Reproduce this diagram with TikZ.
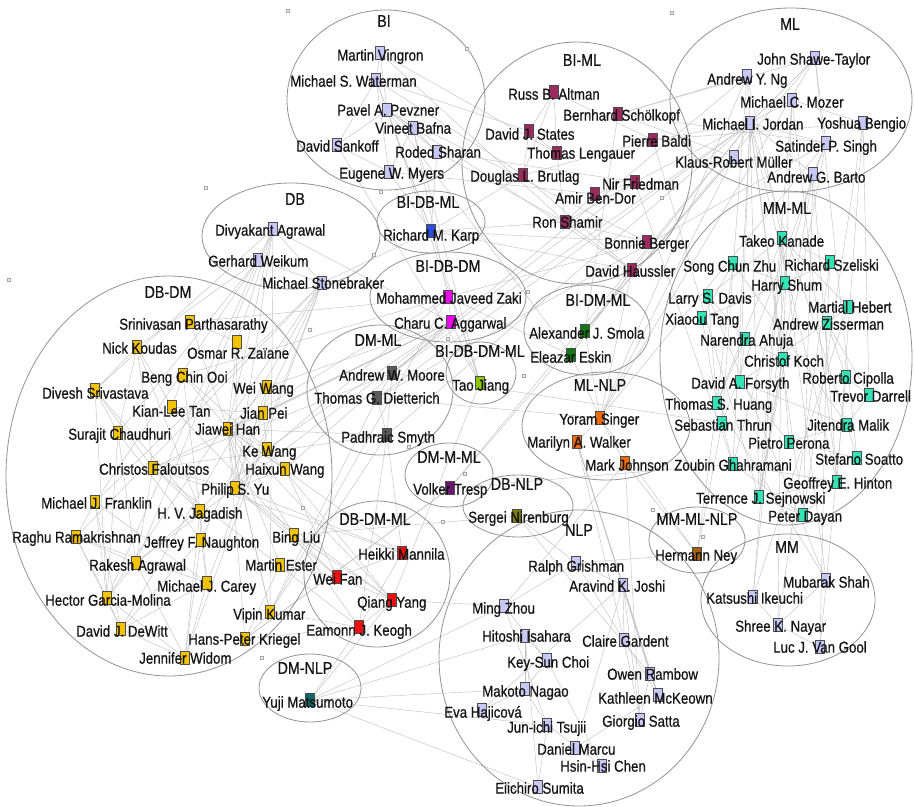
\documentclass[tikz,border=0pt]{standalone}
\usepackage{fontspec}
\setmainfont[FakeStretch=0.84,FakeBold=0.6]{Liberation Sans}
\usetikzlibrary{backgrounds}
\definecolor{lav}{HTML}{C8C8F6}
\definecolor{biml}{HTML}{9C2B60}
\definecolor{mmml}{HTML}{33E3B6}
\definecolor{dbdm}{HTML}{F4C300}
\definecolor{bidbml}{HTML}{2A4DE0}
\definecolor{bidbdm}{HTML}{F000F0}
\definecolor{dmml}{HTML}{5A5A5A}
\definecolor{bidbdmml}{HTML}{90C800}
\definecolor{bidmml}{HTML}{0B7A12}
\definecolor{mlnlp}{HTML}{EA6A0C}
\definecolor{dmmml}{HTML}{6C176F}
\definecolor{dbnlp}{HTML}{7D7D08}
\definecolor{dbdmml}{HTML}{EE1111}
\definecolor{dmnlp}{HTML}{0B6B6B}
\definecolor{mmmlnlp}{HTML}{A5600C}
\newcommand\auth[7]{\node[sq,fill=#4] (#1) at (#2,#3) {};\node[nm] (#1-t) at (#5,#6) {#7};}
\newcommand\grpell[4]{\draw[ring] (#1,#2) ellipse [x radius=#3*0.03cm, y radius=#4*0.03cm];}
\begin{document}
\begin{tikzpicture}[x=0.03cm,y=-0.03cm,
 sq/.style={draw=black!70,line width=0.3pt,minimum width=0.27cm,minimum height=0.39cm,inner sep=0pt,anchor=center},
 nm/.style={font=\fontsize{13.5}{14}\selectfont,text=black!92,inner sep=0pt,anchor=west,text height=9.7pt,text depth=0pt},
 grp/.style={font=\fontsize{14.5}{16}\selectfont,text=black!92,inner sep=0pt},
 edge/.style={draw=black!25,line width=0.35pt},
 ring/.style={draw=black!42,line width=0.7pt},
 hd/.style={draw=black!35,fill=black!6,minimum size=0.1cm,inner sep=0pt,line width=0.3pt}]
\begin{scope}[on background layer]
\fill[white] (0,0) rectangle (914,807);
\end{scope}
\useasboundingbox (0,0) rectangle (914,807);
% group ellipses
\grpell{386}{100}{99}{90}
\grpell{577}{163}{115}{121}
\grpell{791}{100}{121}{92}
\grpell{786}{358}{126}{167}
\grpell{291}{236}{89}{53}
\grpell{169}{476}{163}{200}
\grpell{380}{390}{73}{65}
\grpell{448}{297}{78}{45}
\grpell{431}{222}{54}{31}
\grpell{481}{373}{35}{31}
\grpell{587}{330}{63}{45}
\grpell{606}{426}{84}{54}
\grpell{449}{475}{44}{32}
\grpell{518}{506}{55}{31}
\grpell{377}{574}{73}{73}
\grpell{579}{658}{140}{148}
\grpell{310}{688}{51}{34}
\grpell{697}{540}{48}{33}
\grpell{788}{600}{87}{66}
% group labels
\node[grp] (lbi) at (384,21) {BI};
\node[grp] (lbiml) at (582,60) {BI-ML};
\node[grp] (lml) at (790,24) {ML};
\node[grp] (ldb) at (295,199) {DB};
\node[grp] (lbidbml) at (428,202) {BI-DB-ML};
\node[grp] (lbidbdm) at (448,266) {BI-DB-DM};
\node[grp] (ldbdm) at (168,292) {DB-DM};
\node[grp] (ldmml) at (378,340) {DM-ML};
\node[grp] (lbidbdmml) at (480,351) {BI-DB-DM-ML};
\node[grp] (lbidmml) at (598,300) {BI-DM-ML};
\node[grp] (lmlnlp) at (600,385) {ML-NLP};
\node[grp] (lmmml) at (787,208) {MM-ML};
\node[grp] (ldmmml) at (449,457) {DM-M-ML};
\node[grp] (ldbnlp) at (517,484) {DB-NLP};
\node[grp] (ldbdmml) at (375,519) {DB-DM-ML};
\node[grp] (lnlp) at (579,530) {NLP};
\node[grp] (lmmmlnlp) at (697,519) {MM-ML-NLP};
\node[grp] (lmm) at (787,547) {MM};
\node[grp] (ldmnlp) at (305,668) {DM-NLP};
% handles
\foreach \p [count=\i] in {(288,11),(206,188),(467,49),(381,192),(374,255),(672,13),(662,198),(9,280),(310,330),(448,339),(524,376),(528,292),(465,474),(443,522),(303,508),(653,510),(703,537),(262,658),(409,447)}
  \node[hd] (h\i) at \p {};
% BI
\auth{vingron}{380}{53}{lav}{337}{55}{Martin Vingron}
\auth{waterman}{376}{80}{lav}{290}{81}{Michael S. Waterman}
\auth{pevzner}{387}{110}{lav}{337}{110}{Pavel A. Pevzner}
\auth{bafna}{413}{128}{lav}{375}{128}{Vineet Bafna}
\auth{sankoff}{337}{145}{lav}{296}{146}{David Sankoff}
\auth{sharan}{437}{152}{lav}{395}{152}{Roded Sharan}
\auth{myers}{389}{172}{lav}{339}{173}{Eugene W. Myers}
% BI-ML
\auth{altman}{554}{92}{biml}{508}{94}{Russ B. Altman}
\auth{scholkopf}{618}{114}{biml}{563}{115}{Bernhard Schölkopf}
\auth{states}{529}{131}{biml}{485}{134}{David J. States}
\auth{baldi}{653}{140}{biml}{622}{141}{Pierre Baldi}
\auth{lengauer}{557}{153}{biml}{527}{153}{Thomas Lengauer}
\auth{brutlag}{523}{175}{biml}{470}{176}{Douglas L. Brutlag}
\auth{friedman}{635}{182}{biml}{602}{184}{Nir Friedman}
\auth{bendor}{595}{194}{biml}{555}{198}{Amir Ben-Dor}
\auth{shamir}{565}{222}{biml}{532}{222}{Ron Shamir}
\auth{berger}{647}{242}{biml}{604}{243}{Bonnie Berger}
\auth{haussler}{632}{270}{biml}{585}{271}{David Haussler}
% ML
\auth{shawe}{815}{58}{lav}{757}{59}{John Shawe-Taylor}
\auth{ng}{747}{76}{lav}{707}{79}{Andrew Y. Ng}
\auth{mozer}{792}{100}{lav}{740}{102}{Michael C. Mozer}
\auth{jordan}{750}{123}{lav}{702}{124}{Michael I. Jordan}
\auth{bengio}{863}{123}{lav}{817}{123}{Yoshua Bengio}
\auth{singh}{826}{143}{lav}{775}{146}{Satinder P. Singh}
\auth{muller}{734}{157}{lav}{675}{162}{Klaus-Robert Müller}
\auth{barto}{813}{174}{lav}{767}{177}{Andrew G. Barto}
% DB
\auth{agrawald}{273}{229}{lav}{215}{230}{Divyakant Agrawal}
\auth{weikum}{258}{260}{lav}{208}{261}{Gerhard Weikum}
\auth{stonebraker}{322}{283}{lav}{262}{283}{Michael Stonebraker}
% BI-DB-ML, BI-DB-DM
\auth{karp}{431}{231}{bidbml}{383}{235}{Richard M. Karp}
\auth{zaki}{448}{297}{bidbdm}{376}{298}{Mohammed Javeed Zaki}
\auth{aggarwal}{451}{322}{bidbdm}{394}{323}{Charu C. Aggarwal}
% DB-DM
\auth{partha}{190}{322}{dbdm}{119}{324}{Srinivasan Parthasarathy}
\auth{koudas}{137}{347}{dbdm}{102}{348}{Nick Koudas}
\auth{zaiane}{237}{342}{dbdm}{187}{353}{Osmar R. Zaïane}
\auth{ooi}{183}{375}{dbdm}{141}{377}{Beng Chin Ooi}
\auth{srivastava}{95}{390}{dbdm}{42}{393}{Divesh Srivastava}
\auth{weiwang}{267}{387}{dbdm}{233}{388}{Wei Wang}
\auth{tan}{172}{407}{dbdm}{132}{411}{Kian-Lee Tan}
\auth{pei}{263}{413}{dbdm}{240}{413}{Jian Pei}
\auth{chaudhuri}{118}{433}{dbdm}{68}{434}{Surajit Chaudhuri}
\auth{han}{228}{429}{dbdm}{195}{429}{Jiawei Han}
\auth{kewang}{267}{449}{dbdm}{242}{451}{Ke Wang}
\auth{faloutsos}{153}{468}{dbdm}{99}{469}{Christos Faloutsos}
\auth{haixun}{285}{469}{dbdm}{245}{469}{Haixun Wang}
\auth{yu}{235}{488}{dbdm}{201}{489}{Philip S. Yu}
\auth{franklin}{95}{502}{dbdm}{41}{503}{Michael J. Franklin}
\auth{jagadish}{200}{511}{dbdm}{157}{513}{H. V. Jagadish}
\auth{ramakrishnan}{76}{537}{dbdm}{12}{537}{Raghu Ramakrishnan}
\auth{naughton}{201}{540}{dbdm}{144}{542}{Jeffrey F. Naughton}
\auth{liu}{294}{535}{dbdm}{272}{537}{Bing Liu}
\auth{agrawalr}{136}{563}{dbdm}{89}{565}{Rakesh Agrawal}
\auth{ester}{280}{565}{dbdm}{245}{565}{Martin Ester}
\auth{carey}{207}{583}{dbdm}{157}{586}{Michael J. Carey}
\auth{garcia}{107}{598}{dbdm}{45}{600}{Hector Garcia-Molina}
\auth{kumar}{270}{612}{dbdm}{233}{614}{Vipin Kumar}
\auth{dewitt}{121}{629}{dbdm}{76}{631}{David J. DeWitt}
\auth{kriegel}{245}{639}{dbdm}{188}{639}{Hans-Peter Kriegel}
\auth{widom}{185}{658}{dbdm}{139}{658}{Jennifer Widom}
% DM-ML etc
\auth{moore}{392}{373}{dmml}{339}{375}{Andrew W. Moore}
\auth{dietterich}{377}{398}{dmml}{314}{398}{Thomas G. Dietterich}
\auth{smyth}{387}{435}{dmml}{341}{437}{Padhraic Smyth}
\auth{jiang}{480}{383}{bidbdmml}{452}{385}{Tao Jiang}
\auth{smola}{585}{331}{bidmml}{529}{333}{Alexander J. Smola}
\auth{eskin}{571}{355}{bidmml}{530}{357}{Eleazar Eskin}
\auth{singer}{600}{418}{mlnlp}{559}{419}{Yoram Singer}
\auth{walker}{577}{442}{mlnlp}{527}{442}{Marilyn A. Walker}
\auth{johnson}{625}{463}{mlnlp}{585}{465}{Mark Johnson}
\auth{tresp}{450}{488}{dmmml}{413}{489}{Volker Tresp}
\auth{nirenburg}{517}{516}{dbnlp}{468}{517}{Sergei Nirenburg}
% DB-DM-ML
\auth{mannila}{402}{553}{dbdmml}{358}{554}{Heikki Mannila}
\auth{fan}{337}{577}{dbdmml}{313}{579}{Wei Fan}
\auth{yang}{392}{600}{dbdmml}{357}{602}{Qiang Yang}
\auth{keogh}{359}{627}{dbdmml}{306}{630}{Eamonn J. Keogh}
\auth{matsumoto}{310}{700}{dmnlp}{262}{702}{Yuji Matsumoto}
% NLP
\auth{grishman}{576}{563}{lav}{528}{566}{Ralph Grishman}
\auth{joshi}{623}{585}{lav}{569}{586}{Aravind K. Joshi}
\auth{zhou}{504}{606}{lav}{472}{608}{Ming Zhou}
\auth{isahara}{525}{636}{lav}{482}{636}{Hitoshi Isahara}
\auth{gardent}{624}{640}{lav}{582}{641}{Claire Gardent}
\auth{choi}{547}{660}{lav}{507}{662}{Key-Sun Choi}
\auth{rambow}{650}{674}{lav}{607}{674}{Owen Rambow}
\auth{nagao}{525}{689}{lav}{482}{691}{Makoto Nagao}
\auth{mckeown}{658}{695}{lav}{598}{698}{Kathleen McKeown}
\auth{hajicova}{482}{710}{lav}{444}{712}{Eva Hajicová}
\auth{tsujii}{547}{725}{lav}{507}{727}{Jun-ichi Tsujii}
\auth{satta}{640}{720}{lav}{602}{721}{Giorgio Satta}
\auth{marcu}{575}{748}{lav}{537}{749}{Daniel Marcu}
\auth{chen}{602}{766}{lav}{560}{766}{Hsin-Hsi Chen}
\auth{sumita}{538}{787}{lav}{495}{788}{Eiichiro Sumita}
% MM-ML-NLP, MM
\auth{ney}{697}{554}{mmmlnlp}{655}{555}{Hermann Ney}
\auth{shah}{826}{580}{lav}{783}{582}{Mubarak Shah}
\auth{ikeuchi}{753}{597}{lav}{706}{598}{Katsushi Ikeuchi}
\auth{nayar}{778}{625}{lav}{735}{626}{Shree K. Nayar}
\auth{vangool}{820}{647}{lav}{773}{647}{Luc J. Van Gool}
% MM-ML
\auth{kanade}{782}{238}{mmml}{739}{241}{Takeo Kanade}
\auth{zhu}{733}{263}{mmml}{683}{266}{Song Chun Zhu}
\auth{szeliski}{830}{262}{mmml}{784}{265}{Richard Szeliski}
\auth{shum}{785}{283}{mmml}{751}{285}{Harry Shum}
\auth{davis}{708}{296}{mmml}{668}{298}{Larry S. Davis}
\auth{hebert}{848}{307}{mmml}{808}{307}{Martial Hebert}
\auth{tang}{702}{318}{mmml}{665}{319}{Xiaoou Tang}
\auth{zisserman}{827}{323}{mmml}{773}{324}{Andrew Zisserman}
\auth{ahuja}{745}{339}{mmml}{700}{340}{Narendra Ahuja}
\auth{koch}{783}{359}{mmml}{744}{361}{Christof Koch}
\auth{forsyth}{740}{382}{mmml}{691}{383}{David A. Forsyth}
\auth{cipolla}{846}{377}{mmml}{802}{378}{Roberto Cipolla}
\auth{darrell}{869}{395}{mmml}{830}{396}{Trevor Darrell}
\auth{huang}{717}{403}{mmml}{665}{404}{Thomas S. Huang}
\auth{thrun}{722}{423}{mmml}{674}{425}{Sebastian Thrun}
\auth{malik}{847}{425}{mmml}{807}{425}{Jitendra Malik}
\auth{perona}{789}{442}{mmml}{748}{443}{Pietro Perona}
\auth{ghahramani}{733}{464}{mmml}{674}{465}{Zoubin Ghahramani}
\auth{soatto}{857}{458}{mmml}{815}{459}{Stefano Soatto}
\auth{hinton}{837}{482}{mmml}{783}{483}{Geoffrey E. Hinton}
\auth{sejnowski}{759}{497}{mmml}{696}{498}{Terrence J. Sejnowski}
\auth{dayan}{803}{515}{mmml}{768}{516}{Peter Dayan}
% edges
\begin{scope}[on background layer]
\foreach \a/\b in {waterman/pevzner,waterman/sankoff,waterman/myers,waterman/vingron,pevzner/bafna,pevzner/sharan,pevzner/sankoff,bafna/sharan,bafna/myers,myers/sankoff,vingron/pevzner,
sharan/shamir,sharan/karp,myers/karp,pevzner/karp,vingron/lengauer,waterman/states,sankoff/jiang,bafna/jiang,pevzner/berger,waterman/brutlag,myers/bendor,sharan/friedman,vingron/shamir,pevzner/haussler,waterman/karp,
altman/states,altman/brutlag,altman/lengauer,states/brutlag,lengauer/states,friedman/shamir,friedman/bendor,bendor/shamir,baldi/brutlag,berger/shamir,haussler/shamir,haussler/brutlag,lengauer/shamir,altman/baldi,
scholkopf/smola,scholkopf/muller,scholkopf/shawe,scholkopf/ng,baldi/jordan,friedman/jordan,haussler/jordan,haussler/singer,haussler/eskin,shamir/karp,berger/karp,haussler/karp,friedman/ghahramani,baldi/sejnowski,scholkopf/singh,haussler/smola,brutlag/karp,baldi/bengio,friedman/moore,
shawe/jordan,shawe/singh,ng/jordan,mozer/jordan,mozer/bengio,jordan/singh,jordan/barto,singh/barto,muller/jordan,muller/smola,shawe/smola,bengio/hinton,mozer/hinton,mozer/sejnowski,jordan/ghahramani,jordan/hinton,jordan/sejnowski,jordan/dayan,jordan/malik,jordan/koch,ng/thrun,singh/thrun,barto/sejnowski,barto/dayan,bengio/dayan,jordan/forsyth,muller/tresp,jordan/tresp,ng/singer,singh/singer,shawe/singer,barto/ghahramani,jordan/moore,jordan/dietterich,singh/dietterich,ng/moore,mozer/koch,singh/sejnowski,barto/hinton,bengio/darrell,shawe/soatto,ng/kanade,
kanade/shum,kanade/hebert,kanade/szeliski,shum/szeliski,shum/zhu,shum/tang,zhu/tang,tang/huang,huang/ahuja,huang/davis,davis/ahuja,zisserman/cipolla,zisserman/forsyth,forsyth/malik,forsyth/perona,malik/perona,perona/koch,perona/soatto,soatto/malik,cipolla/darrell,darrell/malik,darrell/zisserman,koch/sejnowski,hinton/dayan,hinton/sejnowski,hinton/ghahramani,dayan/sejnowski,ghahramani/dayan,thrun/ghahramani,zhu/malik,szeliski/zisserman,hebert/zisserman,kanade/davis,kanade/huang,ahuja/forsyth,zhu/huang,koch/ahuja,
kanade/ikeuchi,kanade/nayar,kanade/shah,ikeuchi/hebert,nayar/ikeuchi,nayar/shah,vangool/zisserman,vangool/nayar,shah/davis,ikeuchi/shum,nayar/szeliski,vangool/cipolla,shah/huang,
agrawald/weikum,agrawald/stonebraker,weikum/stonebraker,agrawald/yu,agrawald/zaiane,agrawald/han,agrawald/aggarwal,weikum/garcia,weikum/franklin,stonebraker/dewitt,stonebraker/franklin,stonebraker/carey,stonebraker/widom,stonebraker/garcia,stonebraker/ramakrishnan,weikum/chaudhuri,agrawald/agrawalr,stonebraker/naughton,weikum/koudas,agrawald/srivastava,karp/stonebraker,agrawald/kumar,karp/jiang,
zaki/partha,zaki/han,zaki/aggarwal,zaki/ooi,zaki/eskin,zaki/kumar,zaki/agrawalr,aggarwal/yu,aggarwal/han,aggarwal/weiwang,aggarwal/pei,aggarwal/haixun,aggarwal/kewang,aggarwal/jiang,aggarwal/faloutsos,zaki/bafna,zaki/berger,
partha/han,partha/zaiane,koudas/srivastava,koudas/chaudhuri,koudas/faloutsos,koudas/jagadish,zaiane/han,ooi/tan,ooi/kewang,ooi/jagadish,srivastava/jagadish,srivastava/chaudhuri,srivastava/garcia,weiwang/yu,weiwang/pei,weiwang/han,tan/liu,pei/han,pei/yu,pei/kewang,chaudhuri/agrawalr,chaudhuri/garcia,chaudhuri/naughton,han/yu,han/kewang,han/haixun,han/kumar,han/ester,han/kriegel,haixun/yu,faloutsos/jagadish,faloutsos/yu,faloutsos/agrawalr,franklin/carey,franklin/dewitt,franklin/garcia,franklin/ramakrishnan,jagadish/carey,jagadish/naughton,ramakrishnan/carey,ramakrishnan/agrawalr,ramakrishnan/dewitt,ramakrishnan/garcia,naughton/dewitt,naughton/carey,naughton/widom,liu/yu,liu/han,agrawalr/garcia,agrawalr/yu,agrawalr/widom,ester/kriegel,carey/dewitt,garcia/widom,garcia/dewitt,kumar/han,kumar/kriegel,dewitt/widom,widom/carey,koudas/tan,ooi/han,tan/pei,srivastava/faloutsos,zaiane/yu,kewang/yu,widom/jagadish,
yu/fan,haixun/fan,han/yang,kewang/yang,yu/yang,liu/yang,kumar/keogh,faloutsos/keogh,kriegel/tresp,kumar/smyth,yu/mannila,han/mannila,faloutsos/mannila,ester/fan,liu/fan,liu/keogh,kriegel/keogh,kumar/dietterich,
moore/dietterich,moore/smyth,dietterich/smyth,smyth/mannila,smyth/keogh,moore/thrun,dietterich/singer,smyth/jordan,smyth/faloutsos,moore/faloutsos,smyth/han,jiang/pevzner,jiang/yang,
smola/eskin,smola/singer,eskin/singer,eskin/pevzner,
singer/walker,singer/johnson,walker/rambow,walker/mckeown,walker/joshi,johnson/ney,johnson/zhou,walker/gardent,singer/muller,johnson/satta,
tresp/kriegel,tresp/ghahramani,nirenburg/grishman,nirenburg/rambow,nirenburg/liu,
mannila/keogh,yang/fan,yang/zhou,yang/keogh,mannila/fan,
matsumoto/nagao,matsumoto/tsujii,matsumoto/sumita,matsumoto/keogh,matsumoto/yang,matsumoto/zhou,matsumoto/isahara,
grishman/joshi,grishman/zhou,joshi/rambow,joshi/satta,joshi/hajicova,joshi/marcu,rambow/mckeown,mckeown/marcu,isahara/nagao,isahara/choi,isahara/sumita,nagao/tsujii,nagao/choi,tsujii/chen,tsujii/zhou,zhou/choi,sumita/tsujii,chen/choi,gardent/satta,gardent/joshi,hajicova/nagao,satta/rambow,grishman/mckeown,joshi/mckeown,
ney/grishman,ney/huang,ney/singer,ney/thrun}
  \draw[edge] (\a) -- (\b);
\end{scope}
\end{tikzpicture}
\end{document}
